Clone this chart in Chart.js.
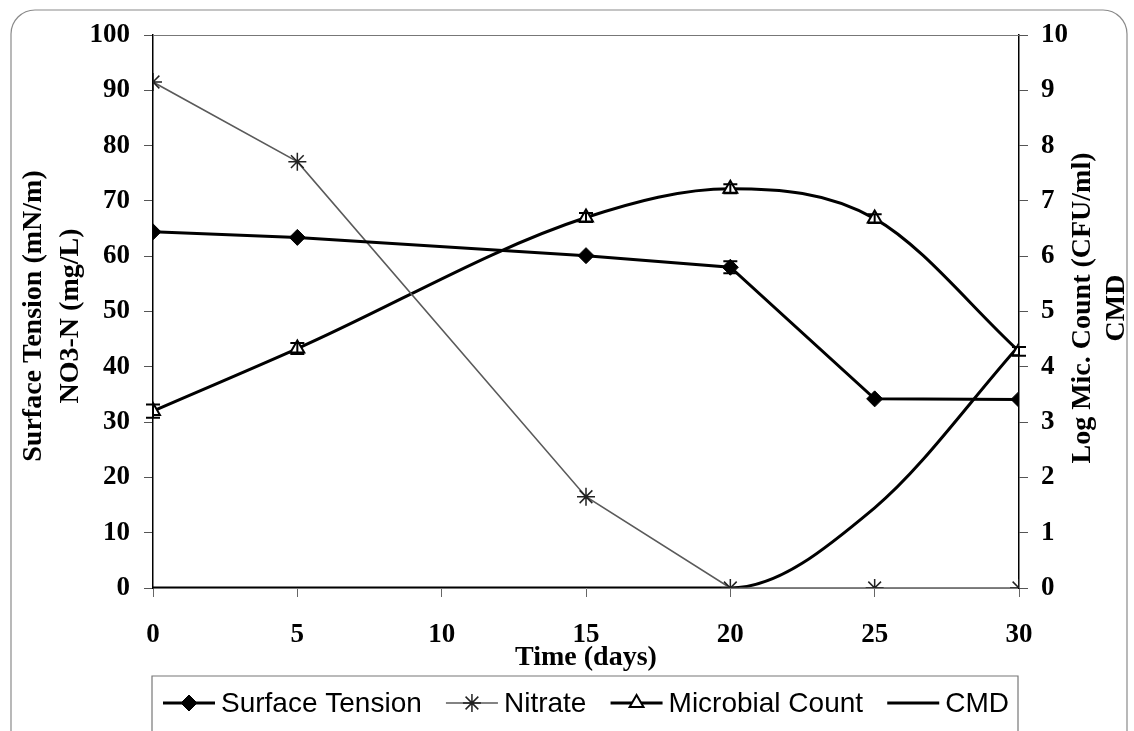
<!DOCTYPE html>
<html>
<head>
<meta charset="utf-8">
<script src="https://cdn.jsdelivr.net/npm/chart.js@4.4.1/dist/chart.umd.min.js"></script>
<style>
  html, body { margin: 0; padding: 0; background: #fff; }
  #wrap { width: 1134px; height: 731px; }
</style>
</head>
<body>
<div id="wrap"><canvas id="myChart" width="1134" height="731"></canvas></div>
<script>
// sampling days
const days = [0, 5, 15, 20, 25, 30];

// left axis series
const surfaceTension = [64.4, 63.4, 60.1, 58.0, 34.2, 34.1];
const surfaceTensionErr = [0, 0, 0, 1.1, 0, 0];
const nitrate = [91.5, 77.1, 16.5, 0, 0, 0];

// right axis series
const microbialCount = [3.2, 4.33, 6.7, 7.22, 6.68, 4.28];
const microbialErr = [0.12, 0.1, 0.08, 0.08, 0.08, 0.08];
const cmd = [0, 0, 0, 0, 1.45, 4.38];

const seriesNames = ['Surface Tension', 'Nitrate', 'Microbial Count', 'CMD'];
const xTitle = 'Time (days)';
const leftTitle = ['Surface Tension (mN/m)', 'NO3-N (mg/L)'];
const rightTitle = ['Log Mic. Count (CFU/ml)', 'CMD'];

const serif = "'Liberation Serif', 'Times New Roman', serif";
const sans = "'Liberation Sans', Arial, sans-serif";

const pts = (vals) => vals.map((v, i) => ({ x: days[i], y: v }));

// rounded outer frame, top border of the plot, axis titles
const decor = {
  id: 'decor',
  beforeDraw(chart) {
    const ctx = chart.ctx;
    ctx.save();
    ctx.fillStyle = '#fff';
    ctx.fillRect(0, 0, chart.width, chart.height);
    ctx.strokeStyle = '#8a8a8a';
    ctx.lineWidth = 1.2;
    ctx.beginPath();
    ctx.roundRect(11, 10, 1116, 760, 24);
    ctx.stroke();
    ctx.restore();
  },
  afterDraw(chart) {
    const ctx = chart.ctx;
    const a = chart.chartArea;
    ctx.save();
    ctx.strokeStyle = '#777';
    ctx.lineWidth = 1;
    ctx.beginPath();
    ctx.moveTo(a.left, a.top + 0.5);
    ctx.lineTo(a.right, a.top + 0.5);
    ctx.stroke();

    ctx.fillStyle = '#000';
    ctx.font = 'bold 28px ' + serif;
    ctx.textAlign = 'center';
    ctx.textBaseline = 'middle';
    ctx.fillText(xTitle, (a.left + a.right) / 2, 658);

    const vertical = (x, y, t) => {
      ctx.save();
      ctx.translate(x, y);
      ctx.rotate(-Math.PI / 2);
      ctx.fillText(t, 0, 0);
      ctx.restore();
    };
    vertical(34, 316, leftTitle[0]);
    vertical(71, 316, leftTitle[1]);
    vertical(1083, 308, rightTitle[0]);
    vertical(1117, 308, rightTitle[1]);
    ctx.restore();
  }
};

// error bars from the err arrays attached to datasets
const errorBars = {
  id: 'errorBars',
  afterDatasetsDraw(chart) {
    const ctx = chart.ctx;
    chart.data.datasets.forEach((ds) => {
      if (!ds.err) return;
      const ys = chart.scales[ds.yAxisID];
      const xs = chart.scales.x;
      ctx.save();
      ctx.strokeStyle = '#000';
      ctx.lineWidth = 2;
      ds.data.forEach((p, i) => {
        const e = ds.err[i];
        if (!e) return;
        const px = xs.getPixelForValue(p.x);
        const top = ys.getPixelForValue(p.y + e);
        const bot = ys.getPixelForValue(p.y - e);
        ctx.beginPath();
        ctx.moveTo(px, top); ctx.lineTo(px, bot);
        ctx.moveTo(px - 7, top); ctx.lineTo(px + 7, top);
        ctx.moveTo(px - 7, bot); ctx.lineTo(px + 7, bot);
        ctx.stroke();
      });
      ctx.restore();
    });
  }
};

// boxed legend: line sample with the series marker in the middle
const boxLegend = {
  id: 'boxLegend',
  afterDraw(chart) {
    const ctx = chart.ctx;
    const a = chart.chartArea;
    const boxTop = 676;
    const y = 703;
    ctx.save();
    ctx.strokeStyle = '#777';
    ctx.lineWidth = 1.2;
    ctx.beginPath();
    ctx.moveTo(a.left - 1, 745);
    ctx.lineTo(a.left - 1, boxTop);
    ctx.lineTo(a.right - 1, boxTop);
    ctx.lineTo(a.right - 1, 745);
    ctx.stroke();

    ctx.font = '28px ' + sans;
    ctx.textBaseline = 'middle';
    const sample = 52, gap = 6;
    const widths = chart.data.datasets.map(ds => sample + gap + ctx.measureText(ds.label).width);
    const total = widths.reduce((s, w) => s + w, 0);
    const inner = (a.right - a.left) - 20;
    const spacing = (inner - total) / (widths.length - 1);
    let x = a.left + 10;
    chart.data.datasets.forEach((ds, i) => {
      ctx.strokeStyle = ds.borderColor;
      ctx.lineWidth = ds.borderWidth;
      ctx.beginPath();
      ctx.moveTo(x, y); ctx.lineTo(x + sample, y);
      ctx.stroke();
      if (ds.pointRadius > 0) {
        ctx.fillStyle = ds.pointBackgroundColor;
        ctx.strokeStyle = ds.pointBorderColor;
        ctx.lineWidth = ds.pointBorderWidth;
        Chart.helpers.drawPoint(ctx, {
          pointStyle: ds.pointStyle,
          radius: ds.pointRadius,
          rotation: 0,
          borderWidth: ds.pointBorderWidth
        }, x + sample / 2, y);
      }
      ctx.fillStyle = '#000';
      ctx.textAlign = 'left';
      ctx.fillText(ds.label, x + sample + gap, y + 1);
      x += widths[i] + spacing;
    });
    ctx.restore();
  }
};

const tickFont = { family: serif, size: 27, weight: 'bold' };

new Chart(document.getElementById('myChart'), {
  type: 'line',
  data: {
    datasets: [
      {
        label: seriesNames[0],
        data: pts(surfaceTension),
        err: surfaceTensionErr,
        yAxisID: 'y',
        borderColor: '#000',
        borderWidth: 3,
        pointStyle: 'rectRot',
        pointRadius: 8,
        pointBackgroundColor: '#000',
        pointBorderColor: '#000',
        pointBorderWidth: 1,
        tension: 0
      },
      {
        label: seriesNames[1],
        data: pts(nitrate),
        yAxisID: 'y',
        borderColor: '#5a5a5a',
        borderWidth: 1.6,
        pointStyle: 'star',
        pointRadius: 9,
        pointBackgroundColor: '#222',
        pointBorderColor: '#222',
        pointBorderWidth: 1.5,
        tension: 0
      },
      {
        label: seriesNames[2],
        data: pts(microbialCount),
        err: microbialErr,
        yAxisID: 'y1',
        borderColor: '#000',
        borderWidth: 3,
        pointStyle: 'triangle',
        pointRadius: 8,
        pointBackgroundColor: '#fff',
        pointBorderColor: '#000',
        pointBorderWidth: 2,
        cubicInterpolationMode: 'monotone'
      },
      {
        label: seriesNames[3],
        data: pts(cmd),
        yAxisID: 'y1',
        borderColor: '#000',
        borderWidth: 3,
        pointRadius: 0,
        cubicInterpolationMode: 'monotone'
      }
    ]
  },
  options: {
    responsive: false,
    animation: false,
    devicePixelRatio: 1,
    layout: { padding: { left: 0, right: 0, top: 35, bottom: 0 } },
    plugins: { legend: { display: false }, tooltip: { enabled: false } },
    scales: {
      x: {
        type: 'linear',
        min: 0, max: 30,
        ticks: { stepSize: 5, color: '#000', font: tickFont, padding: 22 },
        grid: { drawOnChartArea: false, tickLength: 9, color: '#666' },
        border: { color: '#777', width: 1 },
        afterFit: (s) => { s.height = 143; }
      },
      y: {
        position: 'left',
        min: 0, max: 100,
        ticks: { stepSize: 10, color: '#000', font: tickFont, padding: 14 },
        grid: { drawOnChartArea: false, tickLength: 9, color: '#555' },
        border: { color: '#000', width: 1.5 },
        afterFit: (s) => { s.width = 153; }
      },
      y1: {
        position: 'right',
        min: 0, max: 10,
        ticks: { stepSize: 1, color: '#000', font: tickFont, padding: 13 },
        grid: { drawOnChartArea: false, tickLength: 9, color: '#555' },
        border: { color: '#000', width: 1.5 },
        afterFit: (s) => { s.width = 115; }
      }
    }
  },
  plugins: [decor, errorBars, boxLegend]
});
</script>
</body>
</html>
